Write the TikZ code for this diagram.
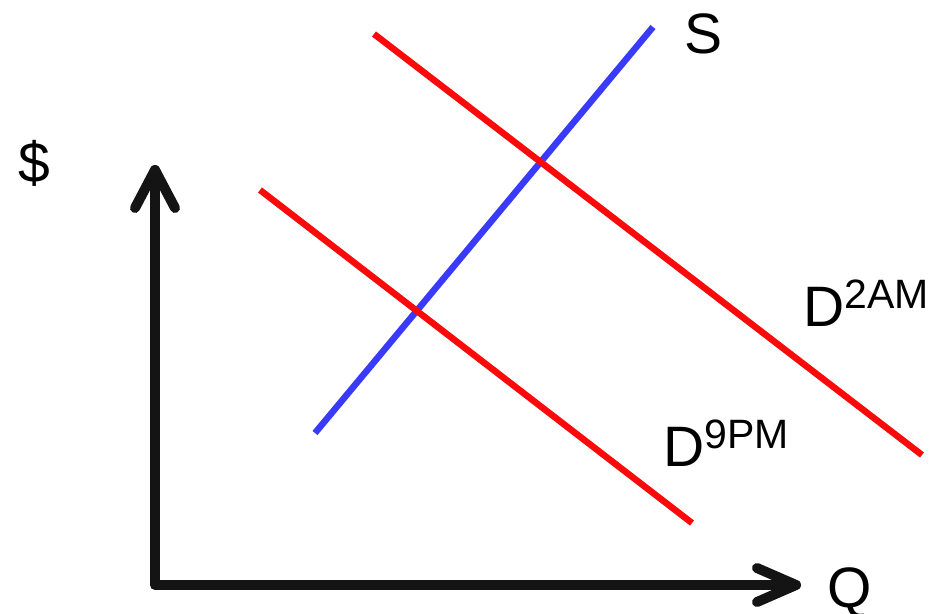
\documentclass[tikz,border=0pt]{standalone}
\usepackage{fontspec}
\setmainfont{Liberation Sans}
\usetikzlibrary{positioning}
\definecolor{supply}{RGB}{58,58,250}
\definecolor{demand}{RGB}{250,10,10}

\newcommand{\bigtxt}{\fontsize{57}{60}\selectfont}
\newcommand{\suptxt}[1]{\raisebox{18pt}{\fontsize{41}{44}\selectfont #1}}

\begin{document}
\begin{tikzpicture}[x=1pt,y=-1pt,
    axis/.style={line width=10pt,line cap=round,line join=round,black!92},
    curve/.style={line width=6.5pt},
    lbl/.style={anchor=base west,inner sep=0pt,font=\bigtxt}]
  \useasboundingbox (0,0) rectangle (934,613);
  % axes
  \coordinate (origin) at (155,585);
  \coordinate (ytip) at (155,170);
  \coordinate (xtip) at (796,585);
  \draw[axis] (ytip) -- (origin) -- (xtip);
  \draw[axis] (135,208) -- (ytip) -- (175,208);
  \draw[axis] (757,568) -- (xtip) -- (757,602);
  % supply
  \coordinate (s0) at (315,433);
  \coordinate (s1) at (653,27);
  \draw[curve,supply] (s0) -- (s1);
  % demand at 9pm and at 2am
  \coordinate (dn0) at (260,190);
  \coordinate (dn1) at (692,523);
  \draw[curve,demand] (dn0) -- (dn1);
  \coordinate (dm0) at (374,34);
  \coordinate (dm1) at (922,455);
  \draw[curve,demand] (dm0) -- (dm1);
  % labels
  \node[lbl] (price) at (18,182) {\$};
  \node[lbl] (qty) at (827,607) {Q};
  \node[lbl] (slbl) at (684,53) {S};
  \node[lbl] (d2am) at (803,326) {D\suptxt{2AM}};
  \node[lbl] (d9pm) at (663,466) {D\suptxt{9PM}};
\end{tikzpicture}
\end{document}
